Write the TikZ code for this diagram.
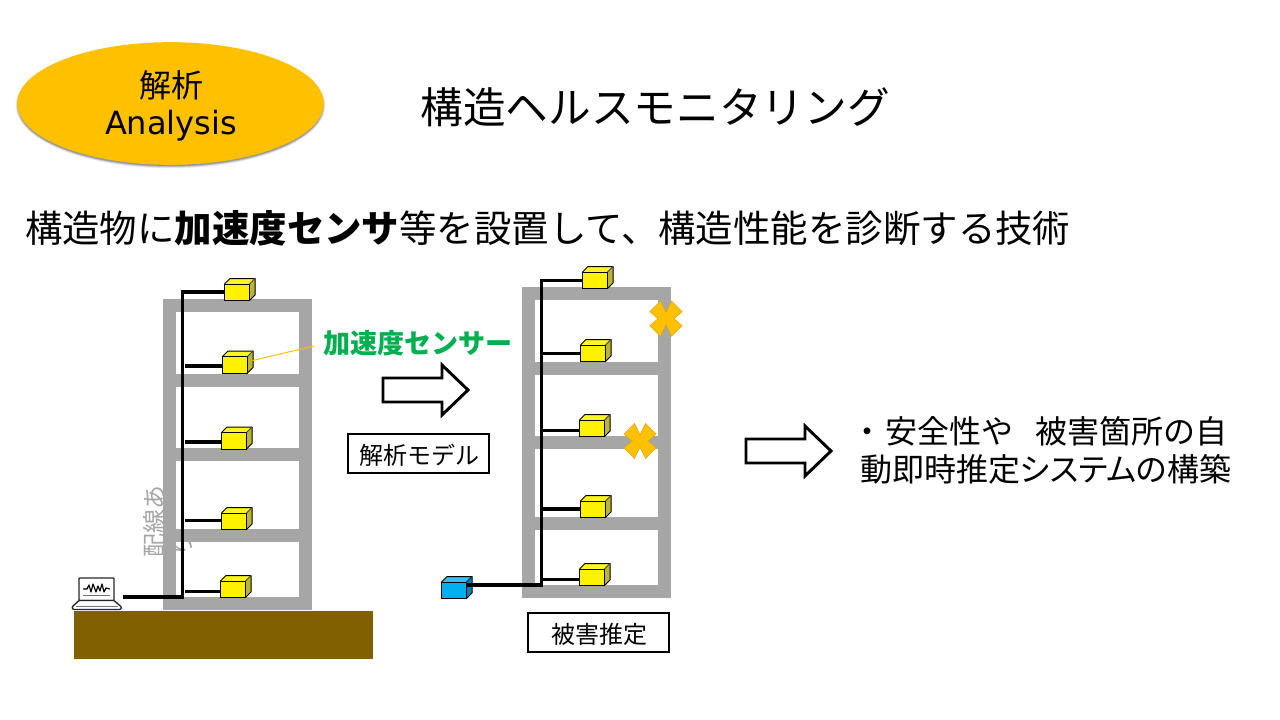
\documentclass[tikz,border=0pt]{standalone}
\usepackage{fontspec}
\setmainfont{Noto Sans CJK JP}
\newfontfamily\latinfont{DejaVu Sans}
\definecolor{wallgray}{HTML}{A6A6A6}
\definecolor{amber}{HTML}{FFC000}
\definecolor{amberedge}{HTML}{E0AC10}
\definecolor{soil}{HTML}{806000}
\definecolor{signgreen}{HTML}{00B050}
\definecolor{skyblue}{HTML}{00B0F0}
\usetikzlibrary{shapes.geometric}
\tikzset{
  x=0.75pt, y=-0.75pt,
  wall/.style={fill=wallgray, draw=none},
  wire/.style={draw=black, line width=2.5pt, line cap=butt},
  caption/.style={draw=black, line width=1.5pt, fill=white, inner sep=0pt},
  captext/.style={inner sep=0pt, font=\fontsize{18}{22}\selectfont},
  blockarrow/.style={draw=black, line width=2.2pt, fill=white, line join=miter},
  crossmark/.style={fill=amber, draw=amberedge, line width=0.5pt},
  txt/.style={inner sep=0pt, outer sep=0pt, anchor=west},
  boxfront/.style={draw=black, line width=0.75pt, inner sep=0pt, outer sep=0pt,
    minimum width=18.75pt, minimum height=12.4pt, anchor=north west}
}
% A small cuboid: name, left edge, top edge, front colour, top colour, side colour
\newcommand{\cuboid}[6]{%
  \fill[#5] (#2,#3) -- ++(5.5,-5.5) -- ++(25,0) -- ++(-5.5,5.5) -- cycle;
  \fill[#6] (#2+25,#3) -- ++(5.5,-5.5) -- ++(0,16.5) -- ++(-5.5,5.5) -- cycle;
  \draw[line width=0.75pt, line join=round] (#2,#3) -- ++(5.5,-5.5) -- ++(25,0) -- ++(0,16.5) -- ++(-5.5,5.5);
  \draw[line width=0.6pt, black!75!#6] (#2+25,#3) -- ++(5.5,-5.5);
  \node[boxfront, fill=#4] (#1) at (#2,#3) {};
}
\newcommand{\yellowbox}[3]{\cuboid{#1}{#2}{#3}{yellow}{yellow!85!white}{yellow!70!black}}
% A block arrow pointing right: left edge, centre line
\newcommand{\fatarrow}[2]{%
  \draw[blockarrow] (#1,#2-12) -- ++(59,0) -- ++(0,-13) -- ++(26,25) -- ++(-26,25) -- ++(0,-13) -- ++(-59,0) -- cycle;
}
% The amber damage cross
\newcommand{\damagecross}[2]{%
  \begin{scope}[shift={(#1,#2)}]
    \fill[crossmark] (-16,-7) -- (-5.5,-17.5) -- (0,-6) -- (5.5,-17.5) -- (16,-7) -- (8,0)
      -- (16,7) -- (5.5,17.5) -- (0,6) -- (-5.5,17.5) -- (-16,7) -- (-8,0) -- cycle;
  \end{scope}%
}
% Frame of a four-storey building: left, top
\newcommand{\building}[2]{%
  \begin{scope}[shift={(#1,#2)}]
    \fill[wall] (0,0) rectangle (149,13);
    \fill[wall] (0,0) rectangle (13,311);
    \fill[wall] (136,0) rectangle (149,311);
    \fill[wall] (0,75) rectangle (149,88);
    \fill[wall] (0,149) rectangle (149,162);
    \fill[wall] (0,230) rectangle (149,243);
    \fill[wall] (0,298) rectangle (149,311);
  \end{scope}%
}
\begin{document}
\begin{tikzpicture}
\useasboundingbox (0,0) rectangle (1280,720);
\fill[white] (0,0) rectangle (1280,720);

% badge with a soft shadow below it
\foreach \g/\o in {2.5/0.04,2/0.05,1.5/0.07,1/0.09,0.5/0.11,0/0.13}
  \fill[black, opacity=\o] (170.5,105.5) ellipse [x radius=152.5+\g, y radius=60.5+\g];
\node[ellipse, fill=amber, minimum width=230pt, minimum height=92pt, inner sep=0pt] (badge) at (170.5,103.5) {};
\node[inner sep=0pt, font=\fontsize{24}{28}\selectfont] (badgejp) at (171,85) {解析};
\node[inner sep=0pt, font=\latinfont\fontsize{24}{28}\selectfont] (badgeen) at (171,125.5) {Analysis};

% headings
\node[txt, font=\fontsize{32}{38}\selectfont] (title) at (420.5,107) {構造ヘルスモニタリング};
\node[txt, font=\fontsize{28.08}{34}\selectfont] (lead) at (25,228) {構造物に\textbf{加速度センサ}等を設置して、構造性能を診断する技術};

% ground and frames
\fill[soil] (74,611) rectangle (373,659);
\building{163}{299}
\building{522}{287}

% wiring note, set sideways and wrapped
\node[inner sep=0pt, rotate=90, text=wallgray, font=\fontsize{18}{22}\selectfont, anchor=center] (notea) at (154,521) {配線あ};
\node[inner sep=0pt, rotate=90, text=wallgray, font=\fontsize{18}{22}\selectfont, anchor=center] (noteb) at (183,544) {り};

% sensors on the first frame
\yellowbox{a1}{224.5}{284}
\yellowbox{a2}{222.5}{356.5}
\yellowbox{a3}{221.5}{432.5}
\yellowbox{a4}{221.5}{513}
\yellowbox{a5}{220.5}{581}

% sensors on the second frame
\yellowbox{b1}{582.5}{272}
\yellowbox{b2}{580.5}{345}
\yellowbox{b3}{579.5}{420}
\yellowbox{b4}{580.5}{501}
\yellowbox{b5}{579.5}{569}
\cuboid{hub}{441.5}{582}{skyblue}{skyblue!80!white}{skyblue!75!black}

% laptop
\begin{scope}[shift={(72,577)}]
  \draw[line width=1pt, draw=black!85, fill=white, rounded corners=0.6pt] (7,1) rectangle (42,23.5);
  \draw[line width=1pt, draw=black!85, fill=white, line join=round, rounded corners=0.6pt] (7,23.5) -- (42,23.5) -- (49.5,30) -- (48.5,32.5) -- (1,32.5) -- (0,30) -- cycle;
  \draw[line width=0.85pt, black, line join=round] (11,12) -- (15,12) -- (17,8) -- (19,15) -- (21,7) -- (24,15) -- (26,9) -- (28,14) -- (30,7) -- (32,15) -- (34,11) -- (38,12);
  \draw[line width=1.1pt, black!55] (11,18.5) -- (38,18.5);
  \draw[line width=0.6pt, black!55] (4,29) -- (46,29);
  \coordinate (laptopport) at (50.5,20);
\end{scope}

% trunk and branch wires, first frame
\coordinate (atop) at (182.5,292);
\coordinate (abot) at (182.5,597);
\draw[wire, line join=miter] (a1.west |- atop) -- (atop) -- (abot) -- (laptopport);
\foreach \s/\y in {a2/366,a3/442,a4/520.5,a5/591.5}
  \draw[wire] (185,\y) -- (\s.west |- 0,\y);

% trunk and branch wires, second frame
\coordinate (btop) at (541.5,280.3);
\coordinate (bbot) at (541.5,585);
\draw[wire, line join=miter] (b1.west |- btop) -- (btop) -- (bbot) -- (hub.east |- bbot);
\foreach \s/\y in {b2/353.7,b3/430.7,b4/509,b5/579.3}
  \draw[wire] (542,\y) -- (\s.west |- 0,\y);

% sensor callout
\node[txt, text=signgreen, font=\fontsize{20.3}{24}\selectfont\bfseries] (sensorlabel) at (323,343) {加速度センサー};
\coordinate (calloutend) at (314,346);
\draw[amber, line width=0.75pt] (252.5,360.5) -- (calloutend);

% damage marks
\damagecross{666}{318.7}
\damagecross{640}{441}

% process arrows
\fatarrow{383}{390}
\fatarrow{746}{451}

% captions
\node[caption, minimum width=105.75pt, minimum height=29.25pt] (model) at (418.5,453.5) {};
\node[captext] (modeltext) at (419.5,455.5) {解析モデル};
\node[caption, minimum width=106pt, minimum height=29.25pt] (estimate) at (598.5,632.5) {};
\node[captext] (estimatetext) at (599.5,634.5) {被害推定};

% conclusion
\node[txt, font=\fontsize{24}{29}\selectfont] (line1) at (851,431) {・\hspace{2pt}安全性や\hspace{16pt}被害箇所の自};
\node[txt, font=\fontsize{24}{29}\selectfont, /utils/exec={\addfontfeature{RawFeature=+palt}}] (line2) at (860,469) {動即時推定システムの構築};
\end{tikzpicture}
\end{document}
